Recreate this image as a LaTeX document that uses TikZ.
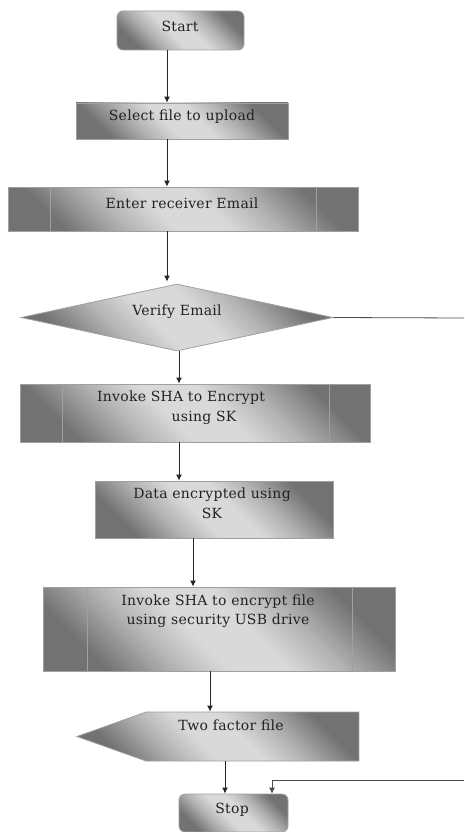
\documentclass[tikz,border=0pt]{standalone}
\usepackage{fontspec}
\setmainfont[LetterSpace=2]{DejaVu Serif}
\usetikzlibrary{shapes.geometric}
\usetikzlibrary{shapes.symbols}
\usetikzlibrary{arrows.meta}

\definecolor{boxdark}{HTML}{727272}
\definecolor{boxmid}{HTML}{B2B2B2}
\definecolor{boxlight}{HTML}{D9D9D9}
\definecolor{boxline}{HTML}{A0A0A0}
\definecolor{inkgray}{HTML}{222222}

\pgfdeclareverticalshading{boxshade}{100bp}{color(0bp)=(boxdark); color(25bp)=(boxdark);
  color(36bp)=(boxmid); color(45bp)=(boxlight); color(55bp)=(boxlight);
  color(64bp)=(boxmid); color(75bp)=(boxdark); color(100bp)=(boxdark)}

\tikzset{
  box/.style={draw=boxline, line width=0.8pt, shading=boxshade, shading angle=-45, inner sep=0pt},
  term/.style={box, rounded corners=6pt},
  proc/.style={box},
  txt/.style={text=inkgray, font=\fontsize{14}{19.5}\selectfont, align=center, inner sep=0pt},
  arr/.style={draw=black!85, line width=1pt, -{Latex[length=6pt,width=6pt]}},
}

\begin{document}
\begin{tikzpicture}[x=1pt,y=-1pt]
    \useasboundingbox (0,0) rectangle (464,832);
    % shapes
    \node[term, minimum width=127pt, minimum height=39pt] (start) at (180.5,30.5) {};
    \node[proc, minimum width=212pt, minimum height=36pt] (sel) at (182,121) {};
    \node[proc, minimum width=350pt, minimum height=44pt] (enter) at (183,209) {};
    \node[box, diamond, minimum width=312pt, minimum height=67pt, aspect=4.66] (verify) at (177,317.5) {};
    \node[proc, minimum width=350pt, minimum height=58pt] (enc) at (195,413) {};
    \node[proc, minimum width=238pt, minimum height=57pt] (data) at (214,509.5) {};
    \node[proc, minimum width=352pt, minimum height=84pt] (file) at (219,629) {};
    \node[box, signal, signal to=west, signal from=nowhere, signal pointer angle=39,
          minimum width=282pt, minimum height=49pt] (two) at (252.5,736.5) {};
    \node[term, minimum width=109pt, minimum height=38pt] (stop) at (233.5,813) {};

    % side bars of the predefined process boxes
    \foreach \n/\l/\r in {enter/43/42, enc/43/41, file/45/43}{
        \draw[boxline, line width=0.8pt] ([xshift=\l pt]\n.north west) -- ([xshift=\l pt]\n.south west);
        \draw[boxline, line width=0.8pt] ([xshift=-\r pt]\n.north east) -- ([xshift=-\r pt]\n.south east);
    }

    % texts
    \node[txt] (start-t) at (180,26) {Start};
    \node[txt] (sel-t) at (182,117) {Select file to upload};
    \node[txt] (enter-t) at (182,203) {Enter receiver Email};
    \node[txt] (verify-t) at (177,312) {Verify Email};
    \node[txt] (enc-t) at (181,407.5) {Invoke SHA to Encrypt\\\hspace*{46pt}using SK};
    \node[txt] (data-t) at (212,503.5) {Data encrypted using\\SK};
    \node[txt] (file-t) at (218,611) {Invoke SHA to encrypt file\\using security USB drive};
    \node[txt] (two-t) at (231,725) {Two factor file};
    \node[txt] (stop-t) at (232,810) {Stop};

    % connectors
    \coordinate (r1) at (464,318);
    \coordinate (r2) at (464,780);
    \draw[arr] ([xshift=-13.5pt]start.south) -- ([xshift=-13.5pt]start.south |- sel.north);
    \draw[arr] ([xshift=-15pt]sel.south) -- ([xshift=-15pt]sel.south |- enter.north);
    \draw[arr] ([xshift=-16pt]enter.south) -- ([xshift=-10pt,yshift=2pt]verify.north);
    \draw[arr] ([xshift=2pt]verify.south) -- ([xshift=2pt]verify.south |- enc.north);
    \draw[arr] ([xshift=-16pt]enc.south) -- ([xshift=-16pt]enc.south |- data.north);
    \draw[arr] ([xshift=-21pt]data.south) -- ([xshift=-21pt]data.south |- file.north);
    \draw[arr] ([xshift=-9pt]file.south) -- ([xshift=-9pt]file.south |- two.north);
    \draw[arr] ([xshift=-27.5pt]two.south) -- ([xshift=-27.5pt]two.south |- stop.north);
    \draw[black!70, line width=0.8pt] (verify.east) -- (r1);
    \draw[arr, draw=black!70, line width=0.8pt] (r2) -| ([xshift=38.5pt]stop.north);
\end{tikzpicture}
\end{document}
